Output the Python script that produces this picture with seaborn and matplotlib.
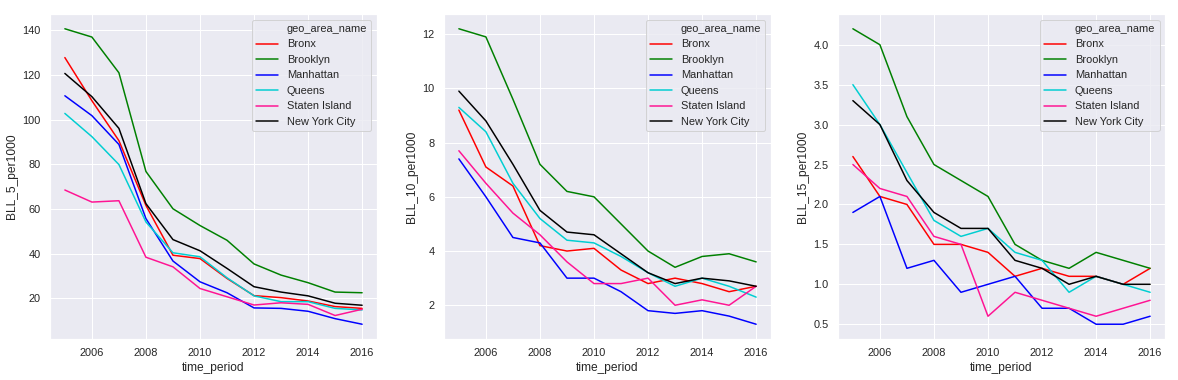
import numpy as np
import pandas as pd
import matplotlib
matplotlib.use("Agg")
import matplotlib.pyplot as plt
import seaborn as sns
from matplotlib.lines import Line2D

# Data
years = list(range(2005, 2017))
areas = ["Bronx", "Brooklyn", "Manhattan", "Queens", "Staten Island", "New York City"]

bll5 = {
    "Bronx":         [127.8, 108.5, 90.6, 61.6, 39.3, 37.8, 28.9, 21.2, 20.3, 18.8, 16.3, 15.5],
    "Brooklyn":      [140.7, 137.0, 121.0, 76.8, 60.1, 52.6, 46.0, 35.4, 30.4, 27.0, 22.8, 22.5],
    "Manhattan":     [110.7, 101.8, 88.9, 55.7, 36.7, 27.4, 22.5, 15.7, 15.5, 14.2, 10.9, 8.4],
    "Queens":        [102.8, 92.4, 79.9, 54.2, 40.4, 38.6, 29.2, 21.1, 18.5, 18.5, 15.5, 14.8],
    "Staten Island": [68.5, 63.1, 63.7, 38.4, 34.1, 24.4, 20.7, 17.0, 18.0, 17.3, 12.3, 15.1],
    "New York City": [120.7, 110.3, 96.1, 62.4, 46.3, 41.3, 33.4, 25.2, 22.8, 21.1, 17.8, 16.9],
}
bll10 = {
    "Bronx":         [9.2, 7.1, 6.4, 4.2, 4.0, 4.1, 3.3, 2.8, 3.0, 2.8, 2.5, 2.7],
    "Brooklyn":      [12.2, 11.9, 9.6, 7.2, 6.2, 6.0, 5.0, 4.0, 3.4, 3.8, 3.9, 3.6],
    "Manhattan":     [7.4, 6.0, 4.5, 4.3, 3.0, 3.0, 2.5, 1.8, 1.7, 1.8, 1.6, 1.3],
    "Queens":        [9.3, 8.4, 6.5, 5.2, 4.4, 4.3, 3.8, 3.2, 2.7, 3.0, 2.7, 2.3],
    "Staten Island": [7.7, 6.5, 5.4, 4.6, 3.6, 2.8, 2.8, 3.0, 2.0, 2.2, 2.0, 2.7],
    "New York City": [9.9, 8.8, 7.2, 5.5, 4.7, 4.6, 3.9, 3.2, 2.8, 3.0, 2.9, 2.7],
}
bll15 = {
    "Bronx":         [2.6, 2.1, 2.0, 1.5, 1.5, 1.4, 1.1, 1.2, 1.1, 1.1, 1.0, 1.2],
    "Brooklyn":      [4.2, 4.0, 3.1, 2.5, 2.3, 2.1, 1.5, 1.3, 1.2, 1.4, 1.3, 1.2],
    "Manhattan":     [1.9, 2.1, 1.2, 1.3, 0.9, 1.0, 1.1, 0.7, 0.7, 0.5, 0.5, 0.6],
    "Queens":        [3.5, 3.0, 2.4, 1.8, 1.6, 1.7, 1.4, 1.3, 0.9, 1.1, 1.0, 0.9],
    "Staten Island": [2.5, 2.2, 2.1, 1.6, 1.5, 0.6, 0.9, 0.8, 0.7, 0.6, 0.7, 0.8],
    "New York City": [3.3, 3.0, 2.3, 1.9, 1.7, 1.7, 1.3, 1.2, 1.0, 1.1, 1.0, 1.0],
}

palette = {
    "Bronx": "red",
    "Brooklyn": "green",
    "Manhattan": "blue",
    "Queens": "darkturquoise",
    "Staten Island": "deeppink",
    "New York City": "black",
}

# Build a long table
rows = []
for name, d in [("BLL_5_per1000", bll5), ("BLL_10_per1000", bll10), ("BLL_15_per1000", bll15)]:
    for area in areas:
        for yr, v in zip(years, d[area]):
            rows.append({"measure": name, "geo_area_name": area, "time_period": yr, "value": v})
df = pd.DataFrame(rows)

sns.set_theme(style="darkgrid", context="notebook")
plt.rcParams["font.family"] = ["Liberation Sans", "DejaVu Sans"]

fig, axes = plt.subplots(1, 3, figsize=(1178 / 72, 380 / 72), dpi=72)
fig.subplots_adjust(left=50 / 1178, right=1165 / 1178, top=1 - 14 / 380,
                    bottom=1 - 339 / 380, wspace=0.205)

for ax, measure in zip(axes, ["BLL_5_per1000", "BLL_10_per1000", "BLL_15_per1000"]):
    sub = df[df["measure"] == measure]
    sns.lineplot(data=sub, x="time_period", y="value", hue="geo_area_name",
                 hue_order=areas, palette=palette, ax=ax)
    ax.set_ylabel(measure)
    ax.set_xlabel("time_period")
    ax.set_xticks([2006, 2008, 2010, 2012, 2014, 2016])
    handles, labels = ax.get_legend_handles_labels()
    handles = [Line2D([], [], color="none")] + handles
    labels = ["geo_area_name"] + labels
    ax.legend(handles, labels, loc="upper right")

plt.savefig("out.png", dpi=72)
